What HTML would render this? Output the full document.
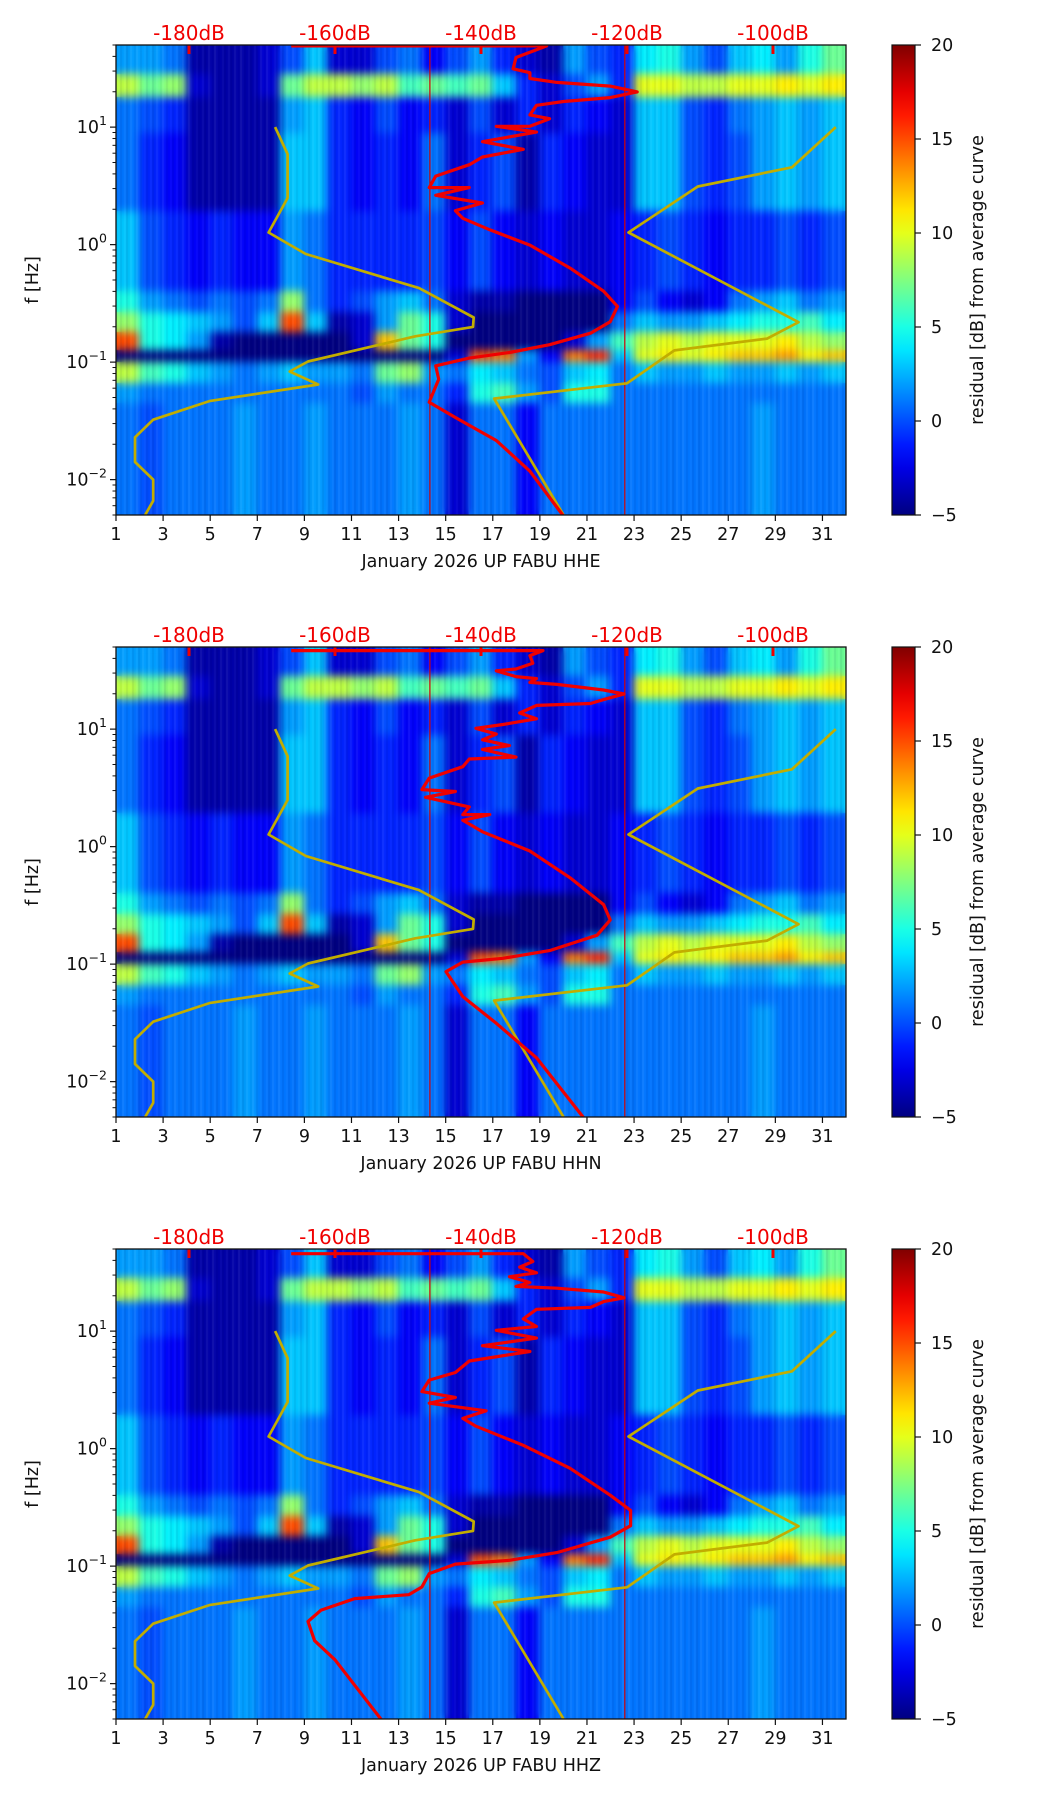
<!DOCTYPE html>
<html><head><meta charset="utf-8">
<style>
html,body{margin:0;padding:0;background:#fff;}
#root{position:relative;width:1052px;height:1806px;overflow:hidden;background:#fff;font-family:"DejaVu Sans","Liberation Sans",sans-serif;}
canvas{position:absolute;}
svg{position:absolute;left:0;top:0;}
</style></head>
<body>
<div id="root">
<svg id="ov" width="1052" height="1806"></svg>
</div>
<script>
// ---------- data ----------
const channels = ['HHE','HHN','HHZ'];
const xTicks = [1,3,5,7,9,11,13,15,17,19,21,23,25,27,29,31];
const yTickExp = [1,0,-1,-2];
const dbLabels = [-180,-160,-140,-120,-100];
const cbTicks = [-5,0,5,10,15,20];
const refLinesDb = [-147,-120.3];

// heatmap bands: log10(f) bounds (top,bottom) and residual values per day (1..31)
const bandTop = [1.70,1.45,1.25,0.95,0.28,-0.40,-0.58,-0.75,-0.90,-1.00,-1.18,-1.35];
const bandBot = [1.45,1.25,0.95,0.28,-0.40,-0.58,-0.75,-0.90,-1.00,-1.18,-1.35,-2.31];
const bandA = [2,2,1,-4,-4,-4,-3,0,3,-3,-3,0,1,-2,0,2,-1,-3,-4,2,0,-1,4,5,2,0,3,4,2,5,7];
const bandB = [9,7,8,-3,-4,-4,-3,7,9,9,8,9,6,7,6,7,3,-1,-3,0,2,-1,10,10,9,9,10,10,11,10,11];
const bandC = [1,0,-1,-4,-4,-4,-4,2,3,-1,-2,0,-2,-1,-3,0,-3,-1,-3,-1,-2,-3,3,3,0,-1,1,2,3,2,3];
const bandD = [1,-1,-2,-4,-4,-4,-4,3,3,-1,-2,-1,-2,1,-3,-1,0,-4,-1,-2,-3,-3,3,3,0,-1,0,2,3,2,3];
const bandE = [3,0,-1,-2,-1,-2,-2,2,1,-1,-1,-1,-1,0,-2,0,-2,-3,-2,-3,-3,-2,-1,0,-1,-2,-1,-1,0,-1,0];
const bandF = [5,2,1,0,1,0,1,8,1,-1,0,2,3,1,-3,-4,-4,-5,-5,-5,-5,-2,0,-2,-3,-2,1,2,3,1,2];
const bandG = [8,5,4,3,2,0,3,15,3,-4,-3,2,7,5,-3,-5,-5,-5,-5,-5,-5,1,3,2,2,3,4,5,5,6,4];
const bandH = [15,5,4,2,-4,-5,-5,-5,-5,-5,-3,12,7,5,-5,-5,-5,-5,-5,-3,2,6,9,10,9,10,10,10,11,9,8];
const bandI = [-5,-5,-5,-5,-5,-5,-5,-5,-5,-5,-5,-5,-5,-5,-3,15,14,2,-2,14,16,3,10,11,10,11,12,12,13,11,12];
const bandJ = [9,6,5,3,2,1,2,3,2,2,1,7,8,2,1,4,3,1,0,3,4,1,3,2,2,3,2,2,3,2,3];
const bandK = [2,1,1,1,1,1,1,1,1,1,0,2,1,1,-1,5,6,2,0,5,5,1,1,1,1,1,1,1,1,1,1];
const bandL = [1,0,1,1,1,2,1,1,2,1,1,1,2,1,-3,1,1,-2,1,1,1,1,1,1,1,1,1,2,1,1,1];
const bands = [bandA,bandB,bandC,bandD,bandE,bandF,bandG,bandH,bandI,bandJ,bandK,bandL];

// Peterson noise models (dB) vs log10 f
const nlnmDb = [-168.2,-166.5,-166.5,-169.1,-164,-148.5,-141,-141.1,-149,-163.7,-166.2,-162.3,-177.1,-184.9,-187.4,-187.4,-184.9,-184.9,-186];
const nlnmLogF = [1.0,0.77,0.397,0.103,-0.08,-0.37,-0.62,-0.70,-0.78,-0.995,-1.08,-1.19,-1.33,-1.49,-1.64,-1.85,-2.0,-2.18,-2.3];
const nhnmDb = [-91.4,-97.4,-110.3,-119.8,-96.5,-100.8,-113.5,-120,-138.2,-128.7];
const nhnmLogF = [1.0,0.658,0.495,0.103,-0.66,-0.80,-0.90,-1.18,-1.31,-2.3];

// station median PSD (dB) vs log10 f, per channel
const psdHHEDb = [-166,-131,-135.2,-135.6,-133.3,-133.3,-129.6,-122.3,-118.6,-122.3,-128.7,-132.4,-133.3,-130.6,-133.3,-137.9,-132.4,-139.8,-134.2,-139.8,-141.6,-146.2,-147.1,-141.6,-146.2,-139.8,-143.5,-142.5,-138.8,-133.3,-127.8,-123.2,-121.3,-122.3,-125,-130.6,-136.1,-141.6,-146.2,-145.8,-147.1,-143.5,-137.9,-133.3,-128.7];
const psdHHELogF = [1.691,1.691,1.593,1.496,1.463,1.414,1.381,1.349,1.300,1.251,1.218,1.186,1.104,1.072,1.007,1.007,0.958,0.876,0.811,0.746,0.680,0.583,0.485,0.485,0.420,0.354,0.289,0.224,0.126,-0.004,-0.200,-0.396,-0.526,-0.656,-0.754,-0.852,-0.918,-0.966,-1.031,-1.145,-1.341,-1.471,-1.667,-1.928,-2.31];
const psdHHNDb = [-166,-131.5,-133.3,-132.9,-135.2,-137.9,-135.2,-132.4,-133.3,-129.6,-123.2,-120.4,-123.2,-125,-132.4,-134.7,-132.4,-137,-140.7,-137.9,-139.8,-136.1,-139.8,-135.2,-141.6,-142.5,-147.1,-148.1,-143.5,-147.6,-141.6,-142.5,-138.8,-142.5,-139.8,-133.3,-127.8,-123.2,-122.3,-124.1,-130.6,-137,-142.5,-144.8,-142.5,-137.9,-132.4,-125.9];
const psdHHNLogF = [1.668,1.668,1.626,1.561,1.512,1.496,1.447,1.430,1.398,1.381,1.333,1.300,1.251,1.218,1.202,1.137,1.088,1.039,1.007,0.958,0.909,0.860,0.827,0.762,0.746,0.680,0.583,0.485,0.469,0.420,0.338,0.273,0.273,0.224,0.126,-0.037,-0.265,-0.493,-0.624,-0.754,-0.885,-0.950,-0.983,-1.064,-1.276,-1.504,-1.797,-2.31];
const psdHHZDb = [-166,-134.2,-132.9,-134.7,-132.4,-136.1,-133.3,-135.2,-129.6,-123.2,-120.4,-123.2,-125,-132.4,-134.2,-132.4,-137.9,-132.4,-139.8,-133.3,-141.6,-143.5,-147.1,-148.1,-143.5,-147.1,-139.3,-142.5,-140.7,-134.2,-127.8,-122.3,-119.5,-119.5,-122.3,-129.6,-136.1,-143.5,-147.1,-148.1,-149.9,-157.3,-161.9,-163.7,-162.8,-160,-153.6];
const psdHHZLogF = [1.659,1.659,1.593,1.545,1.496,1.463,1.414,1.381,1.365,1.333,1.284,1.251,1.202,1.186,1.104,1.039,1.007,0.941,0.876,0.827,0.746,0.648,0.583,0.485,0.436,0.387,0.322,0.257,0.191,0.028,-0.167,-0.396,-0.526,-0.656,-0.754,-0.885,-0.950,-0.983,-1.064,-1.178,-1.243,-1.276,-1.374,-1.471,-1.635,-1.797,-2.31];
const psdDb = [psdHHEDb,psdHHNDb,psdHHZDb];
const psdLogF = [psdHHELogF,psdHHNLogF,psdHHZLogF];

// ---------- layout ----------
const PL=116, PW=730, PH=470, TOPS=[45,647,1249];
const FMAX=Math.log10(50), FMIN=Math.log10(0.005);
const CBX=892, CBW=23;
function X(day){return PL+(day-1)*PW/31;}
function Y(top,lf){return top+(FMAX-lf)*PH/(FMAX-FMIN);}
function dbToDay(db){return 4.1+(db+180)*0.31;}
function cbY(top,v){return top+(20-v)/25*PH;}
function jet(t){t=Math.max(0,Math.min(1,t));const c=v=>Math.round(255*Math.max(0,Math.min(1,v)));
 return 'rgb('+c(1.5-Math.abs(4*t-3))+','+c(1.5-Math.abs(4*t-2))+','+c(1.5-Math.abs(4*t-1))+')';}

const root=document.getElementById('root');
const svg=document.getElementById('ov');
const NS='http://www.w3.org/2000/svg';
function mk(tag,attrs,parent){const e=document.createElementNS(NS,tag);for(const k in attrs)e.setAttribute(k,attrs[k]);(parent||svg).appendChild(e);return e;}
const FONT='"DejaVu Sans","Liberation Sans",sans-serif';

const defs=mk('defs',{});
const grad=mk('linearGradient',{id:'jetg',x1:0,y1:1,x2:0,y2:0},defs);
for(let i=0;i<=20;i++){mk('stop',{offset:(i/20),'stop-color':jet(i/20)},grad);}

TOPS.forEach((top,p)=>{
 const cv=document.createElement('canvas');
 cv.width=PW;cv.height=PH;cv.style.left=PL+'px';cv.style.top=top+'px';
 
 
 root.insertBefore(cv,svg);
 const off=document.createElement('canvas');off.width=PW;off.height=PH;
 const o=off.getContext('2d');
 bands.forEach((row,r)=>{
  const y0=Y(0,bandTop[r]),y1=Y(0,bandBot[r]);
  row.forEach((v,c)=>{
   const x0=X(c+1)-PL,x1=X(c+2)-PL;
   o.fillStyle=jet((v+5)/25);
   o.fillRect(Math.floor(x0),Math.floor(y0),Math.ceil(x1-x0)+1,Math.ceil(y1-y0)+1);
  });
 });
 const ctx=cv.getContext('2d');
 ctx.drawImage(off,0,0);
 ctx.filter='blur(4px)';
 ctx.drawImage(off,0,0);
 ctx.filter='none';
 for(let i=0;i<PW;i+=2){const a=((i*37+p*11)%13)/13;ctx.fillStyle=a>0.5?'rgba(255,255,255,'+((a-0.5)*0.18)+')':'rgba(0,0,60,'+(a*0.2)+')';ctx.fillRect(i,0,2,PH);}

 const g=mk('g',{'clip-path':'url(#clip'+p+')'});
 
 
 const cp=mk('clipPath',{id:'clip'+p},defs);mk('rect',{x:PL,y:top,width:PW,height:PH},cp);

 refLinesDb.forEach(db=>{const l=mk('line',{x1:X(dbToDay(db)),x2:X(dbToDay(db)),y1:top,y2:top+PH,stroke:'#d00000','stroke-width':1.2},g);
  
  });

 const poly=(dbs,lfs,col,w,name)=>{const pts=dbs.map((d,i)=>X(dbToDay(d)).toFixed(1)+','+Y(top,lfs[i]).toFixed(1)).join(' ');
  const e=mk('polyline',{points:pts,fill:'none',stroke:col,'stroke-width':w,'stroke-linejoin':'round'},g);
  
  };
 poly(nlnmDb,nlnmLogF,'#c2ad00',2.7,'nlnm-curve');
 poly(nhnmDb,nhnmLogF,'#c2ad00',2.7,'nhnm-curve');
 poly(psdDb[p],psdLogF[p],'#f00000',3.2,'psd-curve');

 dbLabels.forEach(db=>{const x=X(dbToDay(db));
  const t=mk('rect',{x:x-1.5,y:top,width:3,height:9,fill:'#f00000'});
  
  
  const tx=mk('text',{x:x,y:top-5,'text-anchor':'middle','font-size':20,fill:'#f00000','font-family':FONT});
  tx.textContent=db+'dB';
  
  });

 const fr=mk('rect',{x:PL,y:top,width:PW,height:PH,fill:'none',stroke:'#111','stroke-width':1.3});
 
 

 xTicks.forEach(d=>{const x=X(d);mk('line',{x1:x,x2:x,y1:top+PH,y2:top+PH+6,stroke:'#111','stroke-width':1.2});
  const t=mk('text',{x:x,y:top+PH+25,'text-anchor':'middle','font-size':17.5,fill:'#111','font-family':FONT});
  t.textContent=d;
  
  });
 const xl=mk('text',{x:PL+PW/2,y:top+PH+52,'text-anchor':'middle','font-size':17.5,fill:'#111','font-family':FONT,'xml:space':'preserve'});
 xl.textContent='January 2026 UP FABU  '+channels[p];
 
 

 yTickExp.forEach(e=>{const y=Y(top,e);mk('line',{x1:PL-6,x2:PL,y1:y,y2:y,stroke:'#111','stroke-width':1.2});
  const t=mk('text',{x:PL-9,y:y+6,'text-anchor':'end','font-size':17.5,fill:'#111','font-family':FONT});
  
  
  const a=mk('tspan',{},t);a.textContent='10';
  const b=mk('tspan',{dy:-8,'font-size':12.5},t);b.textContent=(e<0?'\u2212'+(-e):''+e);});
 for(let e=-3;e<=1;e++)for(let k=2;k<=9;k++){const lf=e+Math.log10(k);if(lf<FMIN||lf>FMAX)continue;const y=Y(top,lf);
  mk('line',{x1:PL-3.5,x2:PL,y1:y,y2:y,stroke:'#111','stroke-width':1});}
 const yl=mk('text',{x:0,y:0,transform:'translate(38,'+(top+PH/2)+') rotate(-90)','text-anchor':'middle','font-size':17.5,fill:'#111','font-family':FONT});
 yl.textContent='f [Hz]';
 
 

 const cb=mk('rect',{x:CBX,y:top,width:CBW,height:PH,fill:'url(#jetg)',stroke:'#111','stroke-width':1.2});
 
 
 cbTicks.forEach(v=>{const y=cbY(top,v);mk('line',{x1:CBX+CBW,x2:CBX+CBW+6,y1:y,y2:y,stroke:'#111','stroke-width':1.2});
  const t=mk('text',{x:CBX+CBW+16,y:y+6,'font-size':17.5,fill:'#111','font-family':FONT});
  t.textContent=(v<0?'\u2212'+(-v):v);
  
  });
 const cl=mk('text',{x:0,y:0,transform:'translate(983,'+(top+PH/2)+') rotate(-90)','text-anchor':'middle','font-size':17.5,fill:'#111','font-family':FONT});
 cl.textContent='residual [dB] from average curve';
 
 
});
</script>
</body></html>
